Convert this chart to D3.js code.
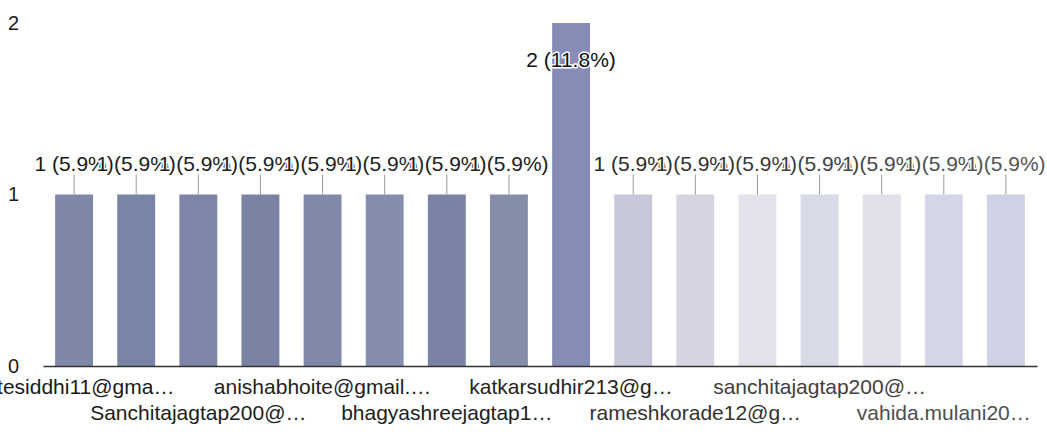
<!DOCTYPE html>
<html><head><meta charset="utf-8">
<script src="https://cdn.jsdelivr.net/npm/d3@7"></script>
<style>
html,body{margin:0;padding:0;background:#fff;}
svg{display:block;font-family:"Liberation Sans",Arial,sans-serif;}
</style></head><body>
<svg id="chart" width="1047" height="443"></svg>
<script>
// ---- data ----
const categories = ["patesiddhi11@gma…", null, "Sanchitajagtap200@…", null,
  "anishabhoite@gmail.…", null, "bhagyashreejagtap1…", null,
  "katkarsudhir213@g…", null, "rameshkorade12@g…", null,
  "sanchitajagtap200@…", null, "vahida.mulani20…", null];
const values = [1,1,1,1,1,1,1,1,2,1,1,1,1,1,1,1];
const yTicks = [0,1,2];
// ---- styling (bar fills, left to right) ----
const barColors = ["#7e87a7","#7a84a6","#7d86a9","#7b83a4","#8189ab","#848dae","#7a82a5","#858da9",
  "#878cb6","#c6c7d8","#d4d5e1","#e2e2ea","#d8dae8","#dfe0ea","#d4d6e7","#cfd2e5"];

const W = 1047, H = 443;
const svg = d3.select("#chart");
const total = d3.sum(values);
const idx = d3.range(values.length);

const x = d3.scaleBand().domain(idx).range([43, 1037]).paddingInner(0.39).paddingOuter(0.195);
const y = d3.scaleLinear().domain([0, 2]).range([366, 23]);
const shade = d3.scaleLinear().domain([0, 560, W]).range(["#181818", "#222222", "#5a5a5a"]);
const FS = 21;

// y axis labels
const ya = svg.append("g").attr("transform", "translate(19,0)")
  .call(d3.axisLeft(y).tickValues(yTicks).tickFormat(d3.format("d")).tickSize(0).tickPadding(0));
ya.select(".domain").remove();
ya.selectAll("text").attr("font-size", FS - 1).attr("font-family", "Liberation Sans, Arial, sans-serif").attr("fill", "#1a1a1a");

// bars
svg.append("g").selectAll("rect").data(idx).join("rect")
  .attr("x", i => x(i)).attr("width", x.bandwidth())
  .attr("y", i => y(values[i])).attr("height", i => y(0) - y(values[i]))
  .attr("fill", i => barColors[i]);

// x axis
const shown = idx.filter(i => categories[i] !== null);
const xa = svg.append("g").attr("transform", `translate(0,${y(0)})`)
  .call(d3.axisBottom(x).tickValues(shown).tickFormat(i => categories[i]).tickSize(0).tickSizeOuter(0).tickPadding(0));
xa.select(".domain").attr("stroke", "#333").attr("stroke-width", 1.5);
xa.selectAll(".tick text")
  .attr("font-size", FS).attr("font-family", "Liberation Sans, Arial, sans-serif")
  .attr("dy", null)
  .attr("y", i => (shown.indexOf(i) % 2 === 0) ? 28 : 54)
  .attr("fill", i => shade(x(i) + x.bandwidth() / 2));

// value labels
const labelText = v => `${v} (${(v / total * 100).toFixed(1)}%)`;
const maxV = d3.max(values);
const lab = svg.append("g");
idx.forEach(i => {
  const cx = x(i) + x.bandwidth() / 2;
  const v = values[i];
  const inside = (y(v) - 32) < y(maxV) + 5;
  if (!inside) {
    lab.append("line").attr("x1", cx).attr("x2", cx)
      .attr("y1", y(v) - 20).attr("y2", y(v))
      .attr("stroke", "#9a9a9a").attr("stroke-width", 1);
  }
  lab.append("text")
    .attr("x", cx).attr("y", inside ? y(v) + 44 : y(v) - 24)
    .attr("text-anchor", "middle").attr("font-size", FS)
    .attr("fill", inside ? "#111" : shade(cx))
    .attr("stroke", "#fff").attr("stroke-width", 3).attr("paint-order", "stroke")
    .attr("stroke-linejoin", "round")
    .text(labelText(v));
});
</script>
</body></html>
